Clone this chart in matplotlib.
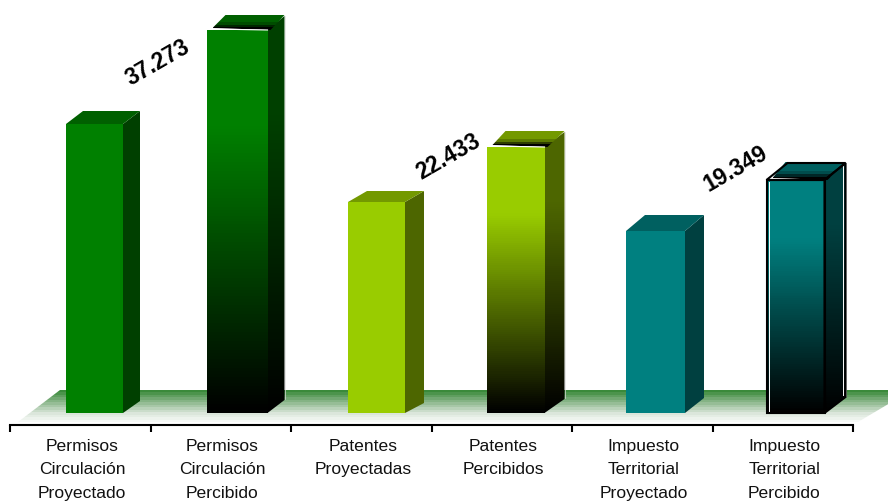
import numpy as np
import matplotlib
matplotlib.use("Agg")
import matplotlib.pyplot as plt
from matplotlib.colors import LinearSegmentedColormap
from matplotlib.patches import Polygon

plt.rcParams['font.family'] = ['Liberation Sans', 'DejaVu Sans']

# ---- data
categories = ["Permisos\nCirculación\nProyectado", "Permisos\nCirculación\nPercibido",
              "Patentes\nProyectadas", "Patentes\nPercibidos",
              "Impuesto\nTerritorial\nProyectado", "Impuesto\nTerritorial\nPercibido"]
bar_heights = [289, 383, 211, 266, 182, 233]          # drawn height, chart units
value_labels = ["", "37.273", "", "22.433", "", "19.349"]

# ---- styling
front_cols = ['#008000', '#008000', '#99CC00', '#99CC00', '#008080', '#008080']
side_cols = ['#004000', '#004000', '#4D6600', '#4D6600', '#004040', '#004040']
top_cols = ['#006000', '#006000', '#739900', '#739900', '#006060', '#006060']
gradient = [False, True, False, True, False, True]
outlined = [False, False, False, False, False, True]
bar_left = [56, 56, 57, 55, 54, 54]      # offset from cell edge
bar_w = [57, 61, 57, 58, 59, 58]
depth_x = [17, 17, 19, 20, 19, 21]
depth_y = [13, 14, 11, 15, 16, 17]
label_xy = [None, (158, 63), None, (448, 157), None, (736, 169)]

W, H = 888, 502
CELL = 140.5
fig = plt.figure(figsize=(W / 100, H / 100), dpi=100)
ax = fig.add_axes([10 / W, (H - 426) / H, 843 / W, 426 / H])
PX = 1 / CELL


def X(px):
    return (px - 10) * PX


def Y(py):
    return 414 - py


def grad_poly(pts, stops, z, n=128, steps=None):
    """Vertical gradient (top -> bottom colours) clipped to a polygon."""
    cmap = LinearSegmentedColormap.from_list("g", stops, N=steps or 256)
    g = np.linspace(0, 1, n).reshape(-1, 1)
    xs = [p[0] for p in pts]
    ys = [p[1] for p in pts]
    im = ax.imshow(g, cmap=cmap, vmin=0, vmax=1, aspect='auto', origin='upper',
                   extent=[min(xs), max(xs), min(ys), max(ys)], zorder=z,
                   interpolation='nearest')
    clip = Polygon(pts, closed=True, transform=ax.transData, fc='none', ec='none')
    im.set_clip_box(fig.bbox)
    im.set_clip_path(clip)
    return im


# floor
floor = [(X(60), Y(391)), (X(912), Y(391)), (X(853), Y(426)), (X(14), Y(426))]
grad_poly(floor, [(0, '#3A8A3A'), (0.35, '#8FB98F'), (0.7, '#DDE8DD'), (1, '#FFFFFF')],
          1, n=14, steps=14)

for i, h in enumerate(bar_heights):
    x0 = i + bar_left[i] * PX
    x1 = x0 + bar_w[i] * PX
    dx = depth_x[i] * PX
    dy = depth_y[i]
    z = 3 + i
    front = [(x0, 0), (x1, 0), (x1, h), (x0, h)]
    side = [(x1, 0), (x1 + dx, dy - 1), (x1 + dx, h + dy), (x1, h)]
    if gradient[i]:
        grad_poly(front, [(0, front_cols[i]), (0.25, front_cols[i]), (1, '#000000')], z)
        grad_poly(side, [(0, side_cols[i]), (0.25, side_cols[i]), (1, '#000000')], z)
        top = [(x0 + 6 * PX, h + 2), (x0 + (6 + 13) * PX, h + dy + 1),
               (x1 + dx, h + dy + 1), (x1 + 3 * PX, h)]
        grad_poly(top, [(0, top_cols[i]), (0.5, top_cols[i]), (1, '#000000')], z, n=6, steps=6)
        ax.plot([x0 + 5 * PX, x1], [h + 1, h], color='white', lw=0.8, zorder=z + 0.2)
        ax.plot([x1 + dx, x1 + dx], [dy, h + dy], color='#DDDDDD', lw=0.5, zorder=z + 0.2)
    else:
        ax.add_patch(Polygon(front, fc=front_cols[i], ec='none', zorder=z))
        ax.add_patch(Polygon(side, fc=side_cols[i], ec='none', zorder=z))
        top = [(x0, h), (x0 + dx, h + dy), (x1 + dx, h + dy), (x1, h)]
        ax.add_patch(Polygon(top, fc=top_cols[i], ec='none', zorder=z))
    if outlined[i]:
        lw = 1.5
        top = [(x0, h), (x0 + dx, h + dy), (x1 + dx, h + dy), (x1, h)]
        ax.plot([x0 + 2 * PX, x0 + 2 * PX], [1, h - 2], color='white', lw=0.7, zorder=z + 0.3)
        ax.plot([x1 + dx - 2 * PX] * 2, [dy + 1, h + dy - 3], color='white', lw=0.7, zorder=z + 0.3)
        for poly in (front, side, top):
            ax.add_patch(Polygon(poly, fc='none', ec='black', lw=lw, joinstyle='miter', zorder=z + 0.5))
    if value_labels[i]:
        px, py = label_xy[i]
        ax.text(X(px), Y(py), value_labels[i], fontsize=16.5, fontweight='bold', color='black',
                rotation=30, rotation_mode='anchor', ha='center', va='center', zorder=20)

ax.set_xlim(0, 6)
ax.set_ylim(-12, 414)
ax.patch.set_alpha(0)
for s in ('top', 'left', 'right'):
    ax.spines[s].set_visible(False)
ax.spines['bottom'].set_linewidth(1.5)
ax.spines['bottom'].set_zorder(10)
ax.set_yticks([])
ax.set_xticks(range(7))
ax.set_xticklabels([])
ax.tick_params(axis='x', which='major', length=5, width=1.5, direction='out')
ax.set_xticks(np.arange(6) + 0.512, minor=True)
ax.set_xticklabels(categories, minor=True, fontsize=12.6, linespacing=1.68, color='#111111')
ax.tick_params(axis='x', which='minor', length=0, pad=9.5)

fig.savefig("out.png", dpi=100, facecolor='white')
